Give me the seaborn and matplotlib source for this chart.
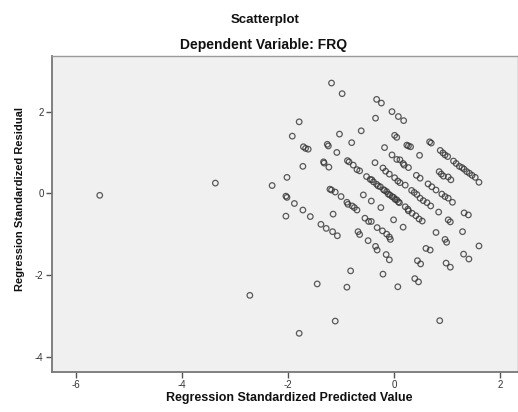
import matplotlib
matplotlib.use("Agg")
import matplotlib.pyplot as plt
import seaborn as sns
import pandas as pd

# Regression Standardized Predicted Value (x) and Residual (y)
pred = [
    -5.55, -3.37, -2.72,
    -2.30, -2.02, -2.04, -2.02, -1.88, -1.72, -2.04, -1.58, -1.79, -1.92, -1.71,
    -1.67, -1.62, -1.72, -1.45, -1.79,
    -1.18, -0.98, -1.03, -0.62, -0.80, -1.26, -1.24, -1.08, -1.33, -1.32, -1.23,
    -0.88, -0.85, -0.77, -0.70, -0.65, -1.21, -1.18, -1.11, -1.00, -0.89, -0.87,
    -0.79, -0.75, -0.70, -1.15, -1.38, -1.28, -1.16, -1.07, -0.68, -0.65, -0.82,
    -0.89, -1.11,
    -0.33, -0.24, -0.04, 0.08, 0.18, -0.35, 0.01, 0.05, 0.24, 0.27, 0.31, -0.18,
    -0.04, 0.05, 0.11, 0.17, 0.19, 0.27, -0.36, -0.21, -0.16, -0.09, 0.01, 0.07,
    0.11, 0.21,
    -0.52, -0.45, -0.42, -0.39, -0.33, -0.30, -0.26, -0.20, -0.18, -0.14, -0.11,
    -0.08, -0.04, -0.01, 0.02, 0.05, 0.08, 0.10,
    -0.58, -0.43, -0.25, -0.01, 0.17, 0.21, 0.26, -0.55, -0.48, -0.43, -0.49,
    -0.32, -0.22, -0.14, -0.09, -0.07, -0.35, -0.32, -0.15, -0.09, -0.21, 0.07,
    0.48, 0.67, 0.70, 0.87, 0.92, 0.96, 1.01,
    1.12, 1.17, 1.23, 1.28, 1.32, 1.37, 1.42, 1.47, 1.53, 1.60,
    0.85, 0.89, 0.93, 1.02, 1.07, 0.42, 0.49, 0.64, 0.71, 0.79, 0.90, 0.96, 1.02,
    1.10, 0.33, 0.38, 0.43, 0.49, 0.55, 0.62, 0.69, 0.27, 0.34, 0.41, 0.47, 0.53,
    0.84, 1.02, 1.06, 1.32, 1.40, 0.79, 0.96, 0.99, 1.29, 1.60, 0.60, 0.68, 0.44,
    0.50, 0.98, 1.06, 1.31, 1.41, 0.39, 0.46, 0.86,
]
resid = [
    -0.05, 0.25, -2.50,
    0.19, 0.39, -0.07, -0.10, -0.25, -0.41, -0.56, -0.57, 1.75, 1.40, 1.14,
    1.10, 1.08, 0.66, -2.22, -3.43,
    2.70, 2.44, 1.45, 1.53, 1.24, 1.20, 1.16, 1.00, 0.77, 0.74, 0.64,
    0.80, 0.77, 0.69, 0.58, 0.55, 0.10, 0.08, 0.03, -0.08, -0.22, -0.27,
    -0.31, -0.35, -0.41, -0.51, -0.76, -0.86, -0.94, -1.04, -0.94, -1.01, -1.90,
    -2.30, -3.13,
    2.30, 2.21, 2.00, 1.88, 1.78, 1.84, 1.42, 1.37, 1.18, 1.16, 1.14, 1.12,
    0.94, 0.83, 0.82, 0.73, 0.69, 0.63, 0.75, 0.62, 0.54, 0.47, 0.38, 0.30,
    0.26, 0.20,
    0.41, 0.34, 0.33, 0.28, 0.22, 0.18, 0.16, 0.09, 0.07, 0.04, -0.02,
    -0.04, -0.08, -0.10, -0.15, -0.16, -0.21, -0.23,
    -0.04, -0.19, -0.35, -0.65, -0.83, -0.33, -0.39, -0.61, -0.69, -0.69, -1.16,
    -0.84, -0.92, -1.00, -1.07, -1.13, -1.30, -1.39, -1.50, -1.63, -1.98, -2.29,
    0.93, 1.26, 1.23, 1.05, 0.99, 0.94, 0.90,
    0.79, 0.73, 0.66, 0.63, 0.59, 0.53, 0.49, 0.44, 0.39, 0.27,
    0.53, 0.47, 0.42, 0.40, 0.33, 0.44, 0.37, 0.23, 0.16, 0.08, -0.02, -0.08, -0.12,
    -0.22, 0.07, 0.02, -0.03, -0.12, -0.18, -0.23, -0.31, -0.43, -0.49, -0.55, -0.63, -0.68,
    -0.46, -0.65, -0.70, -0.48, -0.53, -0.96, -1.13, -1.20, -0.94, -1.29, -1.35, -1.39, -1.65,
    -1.73, -1.71, -1.81, -1.49, -1.61, -2.09, -2.17, -3.12,
]

x_ticks = [-6, -4, -2, 0, 2]
y_ticks = [-4, -2, 0, 2]
title1 = "Scatterplot"
title2 = "Dependent Variable: FRQ"
x_label = "Regression Standardized Predicted Value"
y_label = "Regression Standardized Residual"

df = pd.DataFrame({"pred": pred, "resid": resid})

sns.set_style("white")
plt.rcParams["font.family"] = ["Liberation Sans", "DejaVu Sans"]
plt.rcParams["axes.unicode_minus"] = False

fig = plt.figure(figsize=(5.18, 4.12), dpi=100)
fig.patch.set_facecolor("white")
ax = fig.add_axes([0.1004, 0.0978, 0.8990, 0.767])
ax.set_facecolor("#F0F0F0")

sns.scatterplot(data=df, x="pred", y="resid", ax=ax, marker="o", s=16,
                facecolor="none", edgecolor="#333333", linewidth=0.9, alpha=0.8)
for coll in ax.collections:
    coll.set_facecolor("none")

ax.set_xlim(-6.45, 2.33)
ax.set_ylim(-4.37, 3.37)
ax.set_xticks(x_ticks)
ax.set_yticks(y_ticks)
ax.set_xticklabels([str(t) for t in x_ticks])
ax.set_yticklabels([str(t) for t in y_ticks])
ax.tick_params(axis="both", which="major", bottom=True, left=True, top=False, right=False,
               direction="out", length=4, width=1, color="#555555",
               labelsize=7, labelcolor="#333333", pad=2)
ax.set_xlabel("")
ax.set_ylabel("")

for side in ["top", "right"]:
    ax.spines[side].set_color("#9a9a9a")
    ax.spines[side].set_linewidth(1.0)
for side in ["left", "bottom"]:
    ax.spines[side].set_color("#777777")
    ax.spines[side].set_linewidth(1.3)

fig.text(265 / 518, 1 - 20 / 412, title1, ha="center", va="center",
         fontsize=9.5, fontweight="bold", color="#111111")
fig.text(264 / 518, 1 - 45 / 412, title2, ha="center", va="center",
         fontsize=10, fontweight="bold", color="#111111")
fig.text(289 / 518, 1 - 398 / 412, x_label, ha="center", va="center",
         fontsize=9, fontweight="bold", color="#111111")
fig.text(20 / 518, 1 - 199 / 412, y_label, ha="center", va="center",
         rotation=90, fontsize=8, fontweight="bold", color="#111111")

fig.savefig("out.png", dpi=100, facecolor="white")
